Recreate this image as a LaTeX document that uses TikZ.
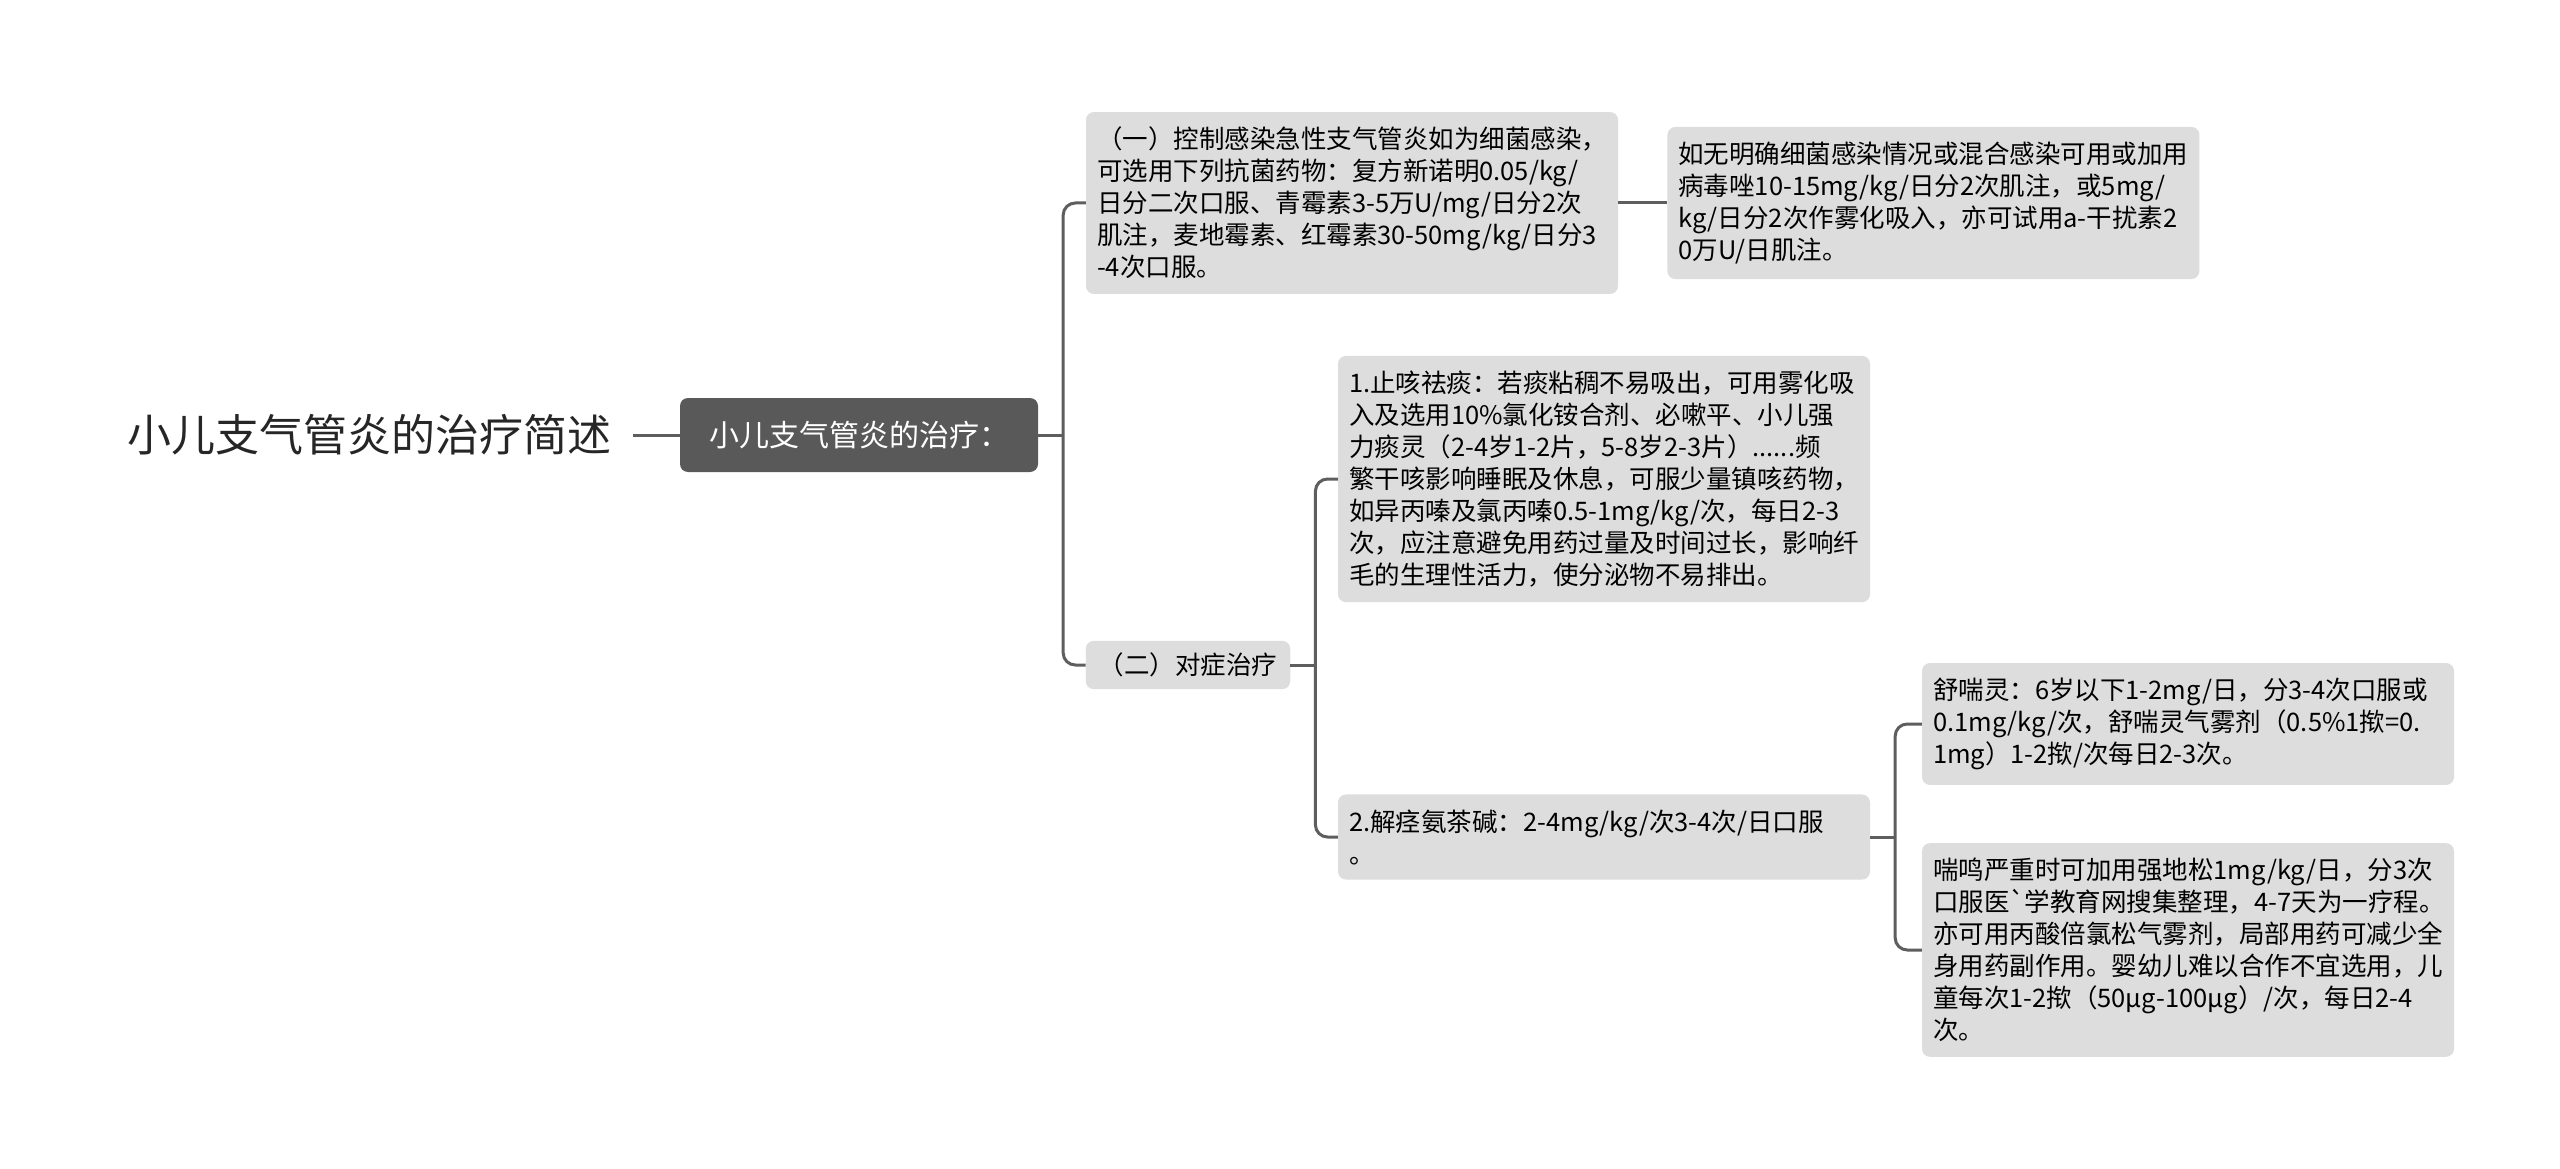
\documentclass[tikz,border=0pt]{standalone}
\usepackage{fontspec}
\newfontfamily\cjk{Noto Sans CJK SC}
\usetikzlibrary{positioning,calc}
\definecolor{linegray}{HTML}{5E5E5E}
\definecolor{boxgray}{HTML}{DDDDDD}
\definecolor{darkbox}{HTML}{595959}
\exhyphenpenalty=10000
\hyphenpenalty=10000
\tikzset{
  link/.style={draw=linegray, line width=3pt, rounded corners=12pt},
  leaf/.style={fill=boxgray, rounded corners=8pt, align=left, text width=510pt,
    inner xsep=11pt, inner ysep=15pt, font=\cjk\fontsize{25.5}{32}\selectfont},
  branch/.style={fill=boxgray, rounded corners=8pt, inner xsep=13pt, inner ysep=12pt,
    font=\cjk\fontsize{25.5}{32}\selectfont},
  mainbox/.style={fill=darkbox, text=white, rounded corners=8pt, minimum height=74pt,
    inner xsep=29pt, font=\cjk\fontsize{30}{36}\selectfont},
  title/.style={inner xsep=22pt, text=black!85, font=\cjk\fontsize{44}{52}\selectfont}
}
\begin{document}
\begin{tikzpicture}[x=1pt, y=-1pt]
    \useasboundingbox (0,0) rectangle (2560,1169);
    \fill[white] (0,0) rectangle (2560,1169);

    % main topics
    \node [title] (root) at (369,435) {小儿支气管炎的治疗简述};
    \node [mainbox] (cure) at (859,435) {小儿支气管炎的治疗：};

    % first branch
    \node [leaf] (anti) at (1352,203) {（一）控制感染急性支气管炎如为细菌感染，\\
可选用下列抗菌药物：复方新诺明0.05/kg/\\
日分二次口服、青霉素3-5万U/mg/日分2次\\
肌注，麦地霉素、红霉素30-50mg/kg/日分3\\
-4次口服。};
    \node [leaf, right=49pt of anti] (virus) {如无明确细菌感染情况或混合感染可用或加用\\
病毒唑10-15mg/kg/日分2次肌注，或5mg/\\
kg/日分2次作雾化吸入，亦可试用a-干扰素2\\
0万U/日肌注。};

    % second branch
    \node [branch] (symp) at (1188,665) {（二）对症治疗};
    \node [leaf] (cough) at (1604,479) {1.止咳祛痰：若痰粘稠不易吸出，可用雾化吸\\
入及选用10\%氯化铵合剂、必嗽平、小儿强\\
力痰灵（2-4岁1-2片，5-8岁2-3片）......频\\
繁干咳影响睡眠及休息，可服少量镇咳药物，\\
如异丙嗪及氯丙嗪0.5-1mg/kg/次，每日2-3\\
次，应注意避免用药过量及时间过长，影响纤\\
毛的生理性活力，使分泌物不易排出。};
    \node [leaf] (spasm) at (1604,837) {2.解痉氨茶碱：2-4mg/kg/次3-4次/日口服\\
。};
    \node [leaf] (salb) at (2188,724) {舒喘灵：6岁以下1-2mg/日，分3-4次口服或\\
0.1mg/kg/次，舒喘灵气雾剂（0.5\%1揿=0.\\
1mg）1-2揿/次每日2-3次。};
    \node [leaf] (pred) at (2188,950) {喘鸣严重时可加用强地松1mg/kg/日，分3次\\
口服医\char96 学教育网搜集整理，4-7天为一疗程。\\
亦可用丙酸倍氯松气雾剂，局部用药可减少全\\
身用药副作用。婴幼儿难以合作不宜选用，儿\\
童每次1-2揿（50μg-100μg）/次，每日2-4\\
次。};

    % forks
    \coordinate (f1) at ([xshift=25pt]cure.east);
    \coordinate (f2) at ([xshift=25pt]symp.east);
    \coordinate (f3) at ([xshift=25pt]spasm.east);

    % connectors
    \draw [link] (root.east) -- (cure.west);
    \draw [link] (cure.east) -- (f1);
    \draw [link] (f1) |- (anti.west);
    \draw [link] (f1) |- (symp.west);
    \draw [link] (anti.east) -- (virus.west);
    \draw [link] (symp.east) -- (f2);
    \draw [link] (f2) |- (cough.west);
    \draw [link] (f2) |- (spasm.west);
    \draw [link] (spasm.east) -- (f3);
    \draw [link] (f3) |- (salb.west);
    \draw [link] (f3) |- (pred.west);
\end{tikzpicture}
\end{document}
